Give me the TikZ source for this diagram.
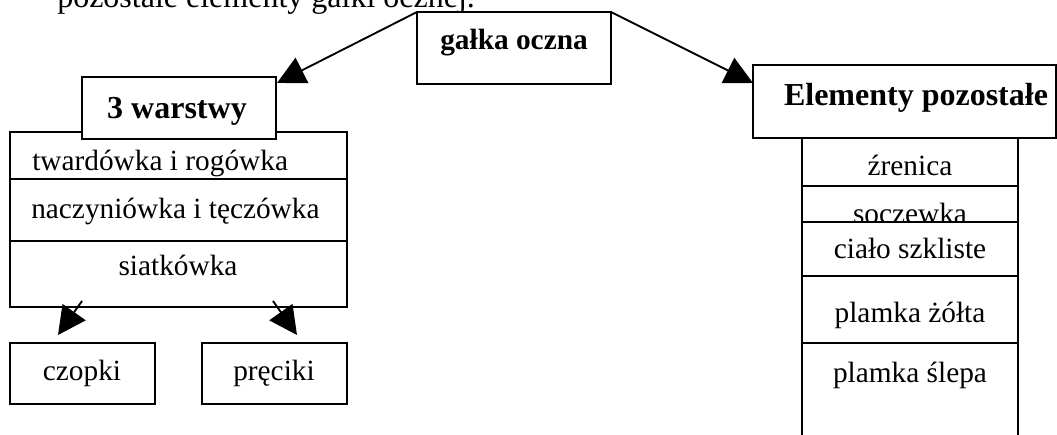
\documentclass[tikz,border=0pt]{standalone}
\usepackage{fontspec}
\setmainfont{Liberation Serif}
\usetikzlibrary{arrows.meta,calc}
\begin{document}
\begin{tikzpicture}[x=0.75pt,y=-0.75pt,
  box/.style 2 args={draw,line width=1.4pt,fill=white,inner sep=0pt,outer sep=0pt,anchor=north west,minimum width=#1*0.75pt,minimum height=#2*0.75pt},
  txt/.style={anchor=base,inner sep=0pt,font=\fontsize{22pt}{26pt}\selectfont},
  ltxt/.style={txt,anchor=base west},
  btxt/.style={anchor=base,inner sep=0pt,font=\fontsize{#1}{26pt}\selectfont\bfseries},
  arr/.style={line width=1.4pt,-{Triangle[length=21pt,width=21pt]}}]
\path[use as bounding box,clip] (0,0) rectangle (1057,435);
% intro line (cut off at the top)
\node[anchor=base west,inner sep=0pt,font=\fontsize{24pt}{28pt}\selectfont] (intro) at (57,8) {pozostałe elementy gałki ocznej.};
% left block
\node[box={337}{47}] (L1) at (10,132) {};
\node[box={337}{62}] (L2) at (10,179) {};
\node[box={337}{66}] (L3) at (10,241) {};
\node[box={194}{62}] (w) at (82,77) {};
\node[btxt=24pt] (wt) at (177,118) {3 warstwy};
\node[ltxt] (t1) at (32,170) {twardówka i rogówka};
\node[ltxt] (t2) at (31,218) {naczyniówka i tęczówka};
\node[txt] (t3) at (178,275) {siatkówka};
\node[box={145}{61}] (cz) at (10,343) {};
\node[txt] (czt) at (82,380) {czopki};
\node[box={145}{61}] (pr) at (202,343) {};
\node[txt] (prt) at (274,380) {pręciki};
% top
\node[box={194}{72}] (g) at (417,12) {};
\node[btxt=22pt] (gt) at (514,50) {gałka oczna};
% right block
\node[box={303}{73}] (E) at (753,65) {};
\node[btxt=24pt] (Et) at (916,105) {Elementy pozostałe};
\node[box={216}{48}] (c1) at (802,138) {};
\node[txt] (c1t) at (910,175) {źrenica};
\node[box={216}{36}] (c2) at (802,186) {};
\node[txt] (c2t) at (910,223) {soczewka};
\node[box={216}{54}] (c3) at (802,222) {};
\node[txt] (c3t) at (910,258) {ciało szkliste};
\node[box={216}{67}] (c4) at (802,276) {};
\node[txt] (c4t) at (910,322) {plamka żółta};
\node[box={216}{110}] (c5) at (802,343) {};
\node[txt] (c5t) at (910,382) {plamka ślepa};
% connectors
\draw[arr] (g.north west) -- ($(w.north east)+(1,6)$);
\draw[arr] (g.north east) -- ($(E.north west)+(0,18)$);
\draw[arr] ($(L3.south west)+(72,-6)$) -- ($(cz.north west)+(48,-8)$);
\draw[arr] ($(L3.south east)+(-74,-6)$) -- ($(pr.north east)+(-50,-8)$);
\end{tikzpicture}
\end{document}
